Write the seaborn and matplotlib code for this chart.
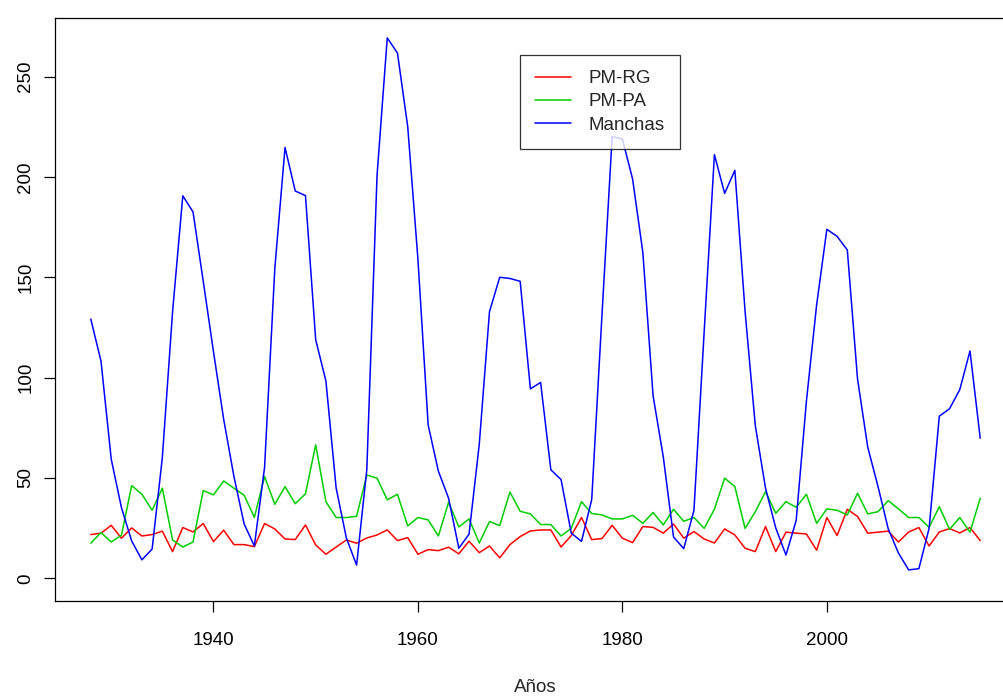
import pandas as pd
import matplotlib
matplotlib.use('Agg')
import matplotlib.pyplot as plt
import seaborn as sns

# Series by year (1928-2015)
years = list(range(1928, 2016))

pm_rg = [21.8, 22.5, 26.4, 20.0, 25.1, 21.1, 21.8, 23.5, 13.3, 25.3,
         23.1, 27.3, 18.3, 24.0, 16.8, 16.8, 15.8, 27.3, 24.6, 19.6,
         19.3, 26.6, 16.6, 12.0, 15.6, 19.1, 17.5, 20.1, 21.6, 24.1,
         18.8, 20.3, 12.0, 14.3, 13.8, 15.5, 12.2, 18.5, 12.8, 16.1,
         10.2, 16.8, 20.8, 23.6, 24.1, 24.1, 15.6, 21.3, 30.3, 19.3,
         19.8, 26.4, 20.0, 17.8, 25.8, 25.4, 22.5, 27.1, 20.0, 23.3,
         19.6, 17.6, 24.6, 21.6, 15.0, 13.3, 25.8, 13.3, 23.0, 22.5,
         22.1, 14.0, 30.3, 21.3, 34.4, 30.8, 22.5, 23.0, 23.5, 18.1,
         23.1, 25.3, 16.1, 23.1, 24.8, 22.6, 25.3, 18.8]

pm_pa = [17.5, 22.8, 18.1, 21.5, 46.2, 41.9, 33.9, 44.9, 19.1, 15.6,
         18.1, 43.7, 41.6, 48.5, 44.9, 41.4, 30.4, 50.7, 36.9, 45.7,
         37.2, 42.1, 66.5, 38.2, 30.3, 30.3, 30.9, 51.5, 49.9, 39.1,
         41.9, 26.1, 30.3, 29.1, 21.1, 37.9, 25.6, 29.6, 17.6, 28.3,
         26.3, 43.0, 33.4, 32.1, 26.8, 26.8, 21.1, 24.9, 38.2, 32.3,
         31.6, 29.6, 29.6, 31.4, 27.4, 32.8, 26.6, 34.4, 28.4, 30.3,
         24.9, 34.4, 49.9, 45.7, 24.9, 33.2, 43.2, 32.4, 38.2, 35.4,
         41.9, 27.4, 34.6, 33.9, 31.6, 42.4, 32.1, 33.2, 38.7, 34.6,
         30.3, 30.3, 25.4, 35.7, 24.4, 30.3, 23.0, 39.9]

manchas = [129.2, 108.2, 59.4, 35.2, 18.6, 9.2, 14.6, 60.2, 132.8, 190.6,
           182.6, 148.0, 113.0, 79.2, 50.8, 27.1, 16.1, 55.3, 154.3, 214.7,
           193.0, 190.7, 118.9, 98.3, 45.0, 20.1, 6.6, 54.2, 200.7, 269.3,
           261.7, 225.1, 159.0, 76.4, 53.4, 39.9, 15.0, 22.0, 66.8, 132.9,
           150.0, 149.4, 148.0, 94.4, 97.6, 54.1, 49.2, 22.5, 18.4, 39.3,
           131.0, 220.1, 218.9, 198.9, 162.4, 91.0, 60.5, 20.6, 14.8, 33.9,
           123.0, 211.1, 191.8, 203.3, 133.0, 76.1, 44.9, 25.1, 11.6, 28.9,
           88.3, 136.3, 173.9, 170.4, 163.6, 99.3, 65.3, 45.8, 24.7, 12.6,
           4.2, 4.8, 24.9, 80.8, 84.5, 94.0, 113.3, 69.8]

series_names = ['PM-RG', 'PM-PA', 'Manchas']
series_colors = ['#FF0000', '#00CD00', '#0000FF']

df = pd.DataFrame({'Año': years, 'PM-RG': pm_rg, 'PM-PA': pm_pa, 'Manchas': manchas})

sns.set_style('white')
plt.rcParams['font.family'] = ['Liberation Sans', 'DejaVu Sans']

W, H = 1004, 696
fig = plt.figure(figsize=(W / 100, H / 100), dpi=100)
# axes box in pixels: left 55, right 1016 (cut by the figure), top 18, bottom 601
ax = fig.add_axes([55 / W, 1 - 601 / H, (1016 - 55) / W, (601 - 18) / H])

for name, col in zip(series_names, series_colors):
    sns.lineplot(data=df, x='Año', y=name, color=col, linewidth=1.1, label=name, ax=ax)

ax.set_xlim(1924.5, 2018.5)
ax.set_ylim(-11.3, 279.2)
ax.set_xticks([1940, 1960, 1980, 2000])
ax.set_yticks([0, 50, 100, 150, 200, 250])
ax.set_xlabel('')
ax.set_ylabel('')
ax.tick_params(axis='both', direction='out', length=8, width=0.9, colors='black',
               labelsize=13.5, left=True, bottom=True)
ax.tick_params(axis='x', pad=14)
ax.tick_params(axis='y', pad=7)
plt.setp(ax.get_yticklabels(), rotation=90, va='center')
for sp in ax.spines.values():
    sp.set_color('black')
    sp.set_linewidth(0.9)

fig.text(535 / W, 1 - 687 / H, 'Años', ha='center', va='center', fontsize=13.5)

leg = ax.legend(loc='upper left', bbox_to_anchor=(520 / W, 1 - 55 / H),
                bbox_transform=fig.transFigure, borderaxespad=0, frameon=True,
                fancybox=False, fontsize=13.5, handlelength=1.9, handletextpad=0.95,
                labelspacing=0.33, borderpad=0.8)
leg.get_frame().set_edgecolor('black')
leg.get_frame().set_linewidth(0.9)

fig.savefig('out.png', dpi=100)
